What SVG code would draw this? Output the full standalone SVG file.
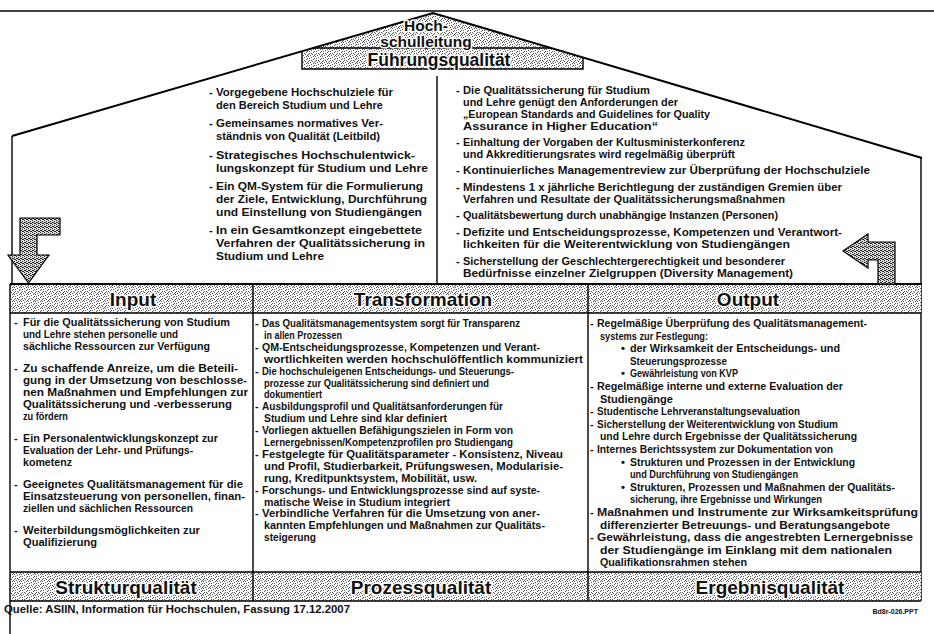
<svg xmlns="http://www.w3.org/2000/svg" width="934" height="634" viewBox="0 0 934 634">
<defs>
<pattern id="st" width="7" height="7" patternUnits="userSpaceOnUse">
<rect width="7" height="7" fill="#fff"/>
<path d="M0 0h1v1H0zM3 1h1v1H3zM5 3h1v1H5zM1 4h1v1H1zM4 5h1v1H4zM6 6h1v1H6zM2 6h1v1H2zM5 0h1v1H5zM1 2h1v1H1zM6 2h1v1H6zM3 4h1v1H3zM0 5h1v1H0z" fill="#555"/>
</pattern>
<pattern id="dk" width="4" height="4" patternUnits="userSpaceOnUse">
<rect width="4" height="4" fill="#ddd"/>
<path d="M0 0h1v1H0zM2 1h1v1H2zM1 2h1v1H1zM3 3h1v1H3zM2 3h1v1H2zM0 2h1v1H0z" fill="#222"/>
</pattern>
<style>
.t{font-family:"Liberation Sans",Arial,sans-serif;font-weight:bold;fill:#111}
.top{font-size:11.2px}
.col{font-size:11px}
.out{font-size:11.2px}
.hd{font-size:19px;text-anchor:middle}
.halo{stroke:#fff;stroke-width:3px;paint-order:stroke;stroke-linejoin:round}
.ln{stroke:#000;fill:none;stroke-width:1.4}
.thk{stroke:#000;fill:none;stroke-width:2}
.band{fill:url(#st)}
</style>
</defs>
<rect width="934" height="634" fill="#fff"/>

<g id="roof">
<polygon class="band" points="433,13 583,57.5 583,69 302,69 302,51.3"/>
<line class="ln" x1="0" y1="11" x2="934" y2="11"/>
<polyline class="thk" points="12,136 433,13 922,158"/>
<path class="ln" d="M313 48H551M302 51.3V69H583V57.5"/>
<text class="t halo" x="426" y="31" font-size="15.5" text-anchor="middle">Hoch-</text>
<text class="t halo" x="426" y="46.5" font-size="15.5" text-anchor="middle">schulleitung</text>
<text class="t halo" x="439" y="66" font-size="17.5" text-anchor="middle">Führungsqualität</text>
</g>

<g id="house-walls">
<line class="ln" x1="12" y1="136" x2="12" y2="285"/>
<line class="ln" x1="921" y1="158" x2="921" y2="601"/>
<line class="ln" x1="437" y1="76" x2="437" y2="284"/>
<line class="thk" x1="10" y1="284" x2="922" y2="284"/>
</g>

<g id="leitung-ziele" class="t top">
<text x="209" y="96">-</text><text x="216" y="96" textLength="177" lengthAdjust="spacingAndGlyphs">Vorgegebene Hochschulziele für</text>
<text x="216" y="108.7" textLength="167" lengthAdjust="spacingAndGlyphs">den Bereich Studium und Lehre</text>
<text x="209" y="127.4">-</text><text x="216" y="127.4" textLength="167" lengthAdjust="spacingAndGlyphs">Gemeinsames normatives Ver-</text>
<text x="216" y="140.1" textLength="164" lengthAdjust="spacingAndGlyphs">ständnis von Qualität (Leitbild)</text>
<text x="209" y="158.8">-</text><text x="216" y="158.8" textLength="199" lengthAdjust="spacingAndGlyphs">Strategisches Hochschulentwick-</text>
<text x="216" y="171.5" textLength="212" lengthAdjust="spacingAndGlyphs">lungskonzept für Studium und Lehre</text>
<text x="209" y="190.2">-</text><text x="216" y="190.2" textLength="207" lengthAdjust="spacingAndGlyphs">Ein QM-System für die Formulierung</text>
<text x="216" y="202.9" textLength="211" lengthAdjust="spacingAndGlyphs">der Ziele, Entwicklung, Durchführung</text>
<text x="216" y="215.6" textLength="206" lengthAdjust="spacingAndGlyphs">und Einstellung von Studiengängen</text>
<text x="209" y="234.3">-</text><text x="216" y="234.3" textLength="206" lengthAdjust="spacingAndGlyphs">In ein Gesamtkonzept eingebettete</text>
<text x="216" y="247" textLength="209" lengthAdjust="spacingAndGlyphs">Verfahren der Qualitätssicherung in</text>
<text x="216" y="259.7" textLength="108" lengthAdjust="spacingAndGlyphs">Studium und Lehre</text>
</g>

<g id="leitung-pruefung" class="t top">
<text x="456" y="94">-</text><text x="463" y="94" textLength="187" lengthAdjust="spacingAndGlyphs">Die Qualitätssicherung für Studium</text>
<text x="463" y="106" textLength="215" lengthAdjust="spacingAndGlyphs">und Lehre genügt den Anforderungen der</text>
<text x="463" y="118" textLength="247" lengthAdjust="spacingAndGlyphs">„European Standards and Guidelines for Quality</text>
<text x="463" y="130" textLength="195" lengthAdjust="spacingAndGlyphs">Assurance in Higher Education“</text>
<text x="456" y="146">-</text><text x="463" y="146" textLength="282" lengthAdjust="spacingAndGlyphs">Einhaltung der Vorgaben der Kultusministerkonferenz</text>
<text x="463" y="158" textLength="272" lengthAdjust="spacingAndGlyphs">und Akkreditierungsrates wird regelmäßig überprüft</text>
<text x="456" y="174">-</text><text x="463" y="174" textLength="407" lengthAdjust="spacingAndGlyphs">Kontinuierliches Managementreview zur Überprüfung der Hochschulziele</text>
<text x="456" y="191">-</text><text x="463" y="191" textLength="379" lengthAdjust="spacingAndGlyphs">Mindestens 1 x jährliche Berichtlegung der zuständigen Gremien über</text>
<text x="463" y="203" textLength="322" lengthAdjust="spacingAndGlyphs">Verfahren und Resultate der Qualitätssicherungsmaßnahmen</text>
<text x="456" y="219">-</text><text x="463" y="219" textLength="315" lengthAdjust="spacingAndGlyphs">Qualitätsbewertung durch unabhängige Instanzen (Personen)</text>
<text x="456" y="236">-</text><text x="463" y="236" textLength="379" lengthAdjust="spacingAndGlyphs">Defizite und Entscheidungsprozesse, Kompetenzen und Verantwort-</text>
<text x="463" y="248" textLength="327" lengthAdjust="spacingAndGlyphs">lichkeiten für die Weiterentwicklung von Studiengängen</text>
<text x="456" y="265">-</text><text x="463" y="265" textLength="322" lengthAdjust="spacingAndGlyphs">Sicherstellung der Geschlechtergerechtigkeit und besonderer</text>
<text x="463" y="277" textLength="330" lengthAdjust="spacingAndGlyphs">Bedürfnisse einzelner Zielgruppen (Diversity Management)</text>
</g>

<g id="connectors">
<polygon points="20,218 60,218 60,235 37,235 37,255 49,255 28.5,283 8,255 20,255" fill="url(#dk)" stroke="#000" stroke-width="1.2"/>
<polygon points="843,251 868,234 868,242 895,242 895,284 878,284 878,260 868,260 868,268" fill="url(#dk)" stroke="#000" stroke-width="1.2"/>
</g>

<g id="bands">
<rect class="band" x="10" y="285" width="911" height="28"/>
<rect class="band" x="10" y="572" width="911" height="29"/>
<path class="ln" d="M10 313H921M10 572H921M10 601H921"/>
<path class="ln" d="M10 284V634M253 285V601M588 285V601"/>
</g>

<g id="input">
<text class="t hd halo" x="133" y="306">Input</text>
<g class="t col">
<text x="14" y="326">-</text><text x="23" y="326" textLength="207" lengthAdjust="spacingAndGlyphs">Für die Qualitätssicherung von Studium</text>
<text x="23" y="338" textLength="155" lengthAdjust="spacingAndGlyphs">und Lehre stehen personelle und</text>
<text x="23" y="350" textLength="187" lengthAdjust="spacingAndGlyphs">sächliche Ressourcen zur Verfügung</text>
<text x="14" y="372">-</text><text x="23" y="372" textLength="215" lengthAdjust="spacingAndGlyphs">Zu schaffende Anreize, um die Beteili-</text>
<text x="23" y="384" textLength="224" lengthAdjust="spacingAndGlyphs">gung in der Umsetzung von beschlosse-</text>
<text x="23" y="396" textLength="225" lengthAdjust="spacingAndGlyphs">nen Maßnahmen und Empfehlungen zur</text>
<text x="23" y="408" textLength="209" lengthAdjust="spacingAndGlyphs">Qualitätssicherung und -verbesserung</text>
<text x="23" y="420" textLength="45" lengthAdjust="spacingAndGlyphs">zu fördern</text>
<text x="14" y="442">-</text><text x="23" y="442" textLength="195" lengthAdjust="spacingAndGlyphs">Ein Personalentwicklungskonzept zur</text>
<text x="23" y="454" textLength="170" lengthAdjust="spacingAndGlyphs">Evaluation der Lehr- und Prüfungs-</text>
<text x="23" y="466" textLength="49" lengthAdjust="spacingAndGlyphs">kometenz</text>
<text x="14" y="488">-</text><text x="23" y="488" textLength="220" lengthAdjust="spacingAndGlyphs">Geeignetes Qualitätsmanagement für die</text>
<text x="23" y="500" textLength="222" lengthAdjust="spacingAndGlyphs">Einsatzsteuerung von personellen, finan-</text>
<text x="23" y="512" textLength="170" lengthAdjust="spacingAndGlyphs">ziellen und sächlichen Ressourcen</text>
<text x="14" y="534">-</text><text x="23" y="534" textLength="177" lengthAdjust="spacingAndGlyphs">Weiterbildungsmöglichkeiten zur</text>
<text x="23" y="546" textLength="74" lengthAdjust="spacingAndGlyphs">Qualifizierung</text>
</g>
<text class="t hd halo" x="126" y="594">Strukturqualität</text>
</g>

<g id="transformation">
<text class="t hd halo" x="423" y="306">Transformation</text>
<g class="t col">
<text x="255" y="327">-</text><text x="262" y="327" textLength="258" lengthAdjust="spacingAndGlyphs">Das Qualitätsmanagementsystem sorgt für Transparenz</text>
<text x="264" y="338.9" textLength="78" lengthAdjust="spacingAndGlyphs">in allen Prozessen</text>
<text x="255" y="350.8">-</text><text x="262" y="350.8" textLength="278" lengthAdjust="spacingAndGlyphs">QM-Entscheidungsprozesse, Kompetenzen und Verant-</text>
<text x="264" y="362.7" textLength="319" lengthAdjust="spacingAndGlyphs">wortlichkeiten werden hochschulöffentlich kommuniziert</text>
<text x="255" y="374.6">-</text><text x="262" y="374.6" textLength="252" lengthAdjust="spacingAndGlyphs">Die hochschuleigenen Entscheidungs- und Steuerungs-</text>
<text x="264" y="386.5" textLength="225" lengthAdjust="spacingAndGlyphs">prozesse zur Qualitätssicherung sind definiert und</text>
<text x="264" y="398.4" textLength="58" lengthAdjust="spacingAndGlyphs">dokumentiert</text>
<text x="255" y="410.3">-</text><text x="262" y="410.3" textLength="241" lengthAdjust="spacingAndGlyphs">Ausbildungsprofil und Qualitätsanforderungen für</text>
<text x="264" y="422.2" textLength="183" lengthAdjust="spacingAndGlyphs">Studium und Lehre sind klar definiert</text>
<text x="255" y="434.1">-</text><text x="262" y="434.1" textLength="251" lengthAdjust="spacingAndGlyphs">Vorliegen aktuellen Befähigungszielen in Form von</text>
<text x="264" y="446" textLength="249" lengthAdjust="spacingAndGlyphs">Lernergebnissen/Kompetenzprofilen pro Studiengang</text>
<text x="255" y="457.9">-</text><text x="262" y="457.9" textLength="301" lengthAdjust="spacingAndGlyphs">Festgelegte für Qualitätsparameter - Konsistenz, Niveau</text>
<text x="264" y="469.8" textLength="299" lengthAdjust="spacingAndGlyphs">und Profil, Studierbarkeit, Prüfungswesen, Modularisie-</text>
<text x="264" y="481.7" textLength="213" lengthAdjust="spacingAndGlyphs">rung, Kreditpunktsystem, Mobilität, usw.</text>
<text x="255" y="493.6">-</text><text x="262" y="493.6" textLength="278" lengthAdjust="spacingAndGlyphs">Forschungs- und Entwicklungsprozesse sind auf syste-</text>
<text x="264" y="505.5" textLength="186" lengthAdjust="spacingAndGlyphs">matische Weise in Studium integriert</text>
<text x="255" y="517.4">-</text><text x="262" y="517.4" textLength="278" lengthAdjust="spacingAndGlyphs">Verbindliche Verfahren für die Umsetzung von aner-</text>
<text x="264" y="529.3" textLength="281" lengthAdjust="spacingAndGlyphs">kannten Empfehlungen und Maßnahmen zur Qualitäts-</text>
<text x="264" y="541.2" textLength="52" lengthAdjust="spacingAndGlyphs">steigerung</text>
</g>
<text class="t hd halo" x="421" y="594">Prozessqualität</text>
</g>

<g id="output">
<text class="t hd halo" x="748" y="306">Output</text>
<g class="t out">
<text x="590" y="327">-</text><text x="597" y="327" textLength="270" lengthAdjust="spacingAndGlyphs">Regelmäßige Überprüfung des Qualitätsmanagement-</text>
<text x="600" y="339.6" textLength="108" lengthAdjust="spacingAndGlyphs">systems zur Festlegung:</text>
<text x="621" y="352.2">•</text><text x="630" y="352.2" textLength="210" lengthAdjust="spacingAndGlyphs">der Wirksamkeit der Entscheidungs- und</text>
<text x="630" y="364.8" textLength="97" lengthAdjust="spacingAndGlyphs">Steuerungsprozesse</text>
<text x="621" y="377.4">•</text><text x="630" y="377.4" textLength="108" lengthAdjust="spacingAndGlyphs">Gewährleistung von KVP</text>
<text x="590" y="390">-</text><text x="597" y="390" textLength="246" lengthAdjust="spacingAndGlyphs">Regelmäßige interne und externe Evaluation der</text>
<text x="600" y="402.6" textLength="73" lengthAdjust="spacingAndGlyphs">Studiengänge</text>
<text x="590" y="415.2">-</text><text x="597" y="415.2" textLength="203" lengthAdjust="spacingAndGlyphs">Studentische Lehrveranstaltungsevaluation</text>
<text x="590" y="427.8">-</text><text x="597" y="427.8" textLength="241" lengthAdjust="spacingAndGlyphs">Sicherstellung der Weiterentwicklung von Studium</text>
<text x="600" y="440.4" textLength="257" lengthAdjust="spacingAndGlyphs">und Lehre durch Ergebnisse der Qualitätssicherung</text>
<text x="590" y="453">-</text><text x="597" y="453" textLength="236" lengthAdjust="spacingAndGlyphs">Internes Berichtssystem zur Dokumentation von</text>
<text x="621" y="465.6">•</text><text x="630" y="465.6" textLength="225" lengthAdjust="spacingAndGlyphs">Strukturen und Prozessen in der Entwicklung</text>
<text x="630" y="478.2" textLength="168" lengthAdjust="spacingAndGlyphs">und Durchführung von Studiengängen</text>
<text x="621" y="490.8">•</text><text x="630" y="490.8" textLength="265" lengthAdjust="spacingAndGlyphs">Strukturen, Prozessen und Maßnahmen der Qualitäts-</text>
<text x="630" y="503.4" textLength="192" lengthAdjust="spacingAndGlyphs">sicherung, ihre Ergebnisse und Wirkungen</text>
<text x="590" y="516">-</text><text x="597" y="516" textLength="321" lengthAdjust="spacingAndGlyphs">Maßnahmen und Instrumente zur Wirksamkeitsprüfung</text>
<text x="600" y="528.6" textLength="290" lengthAdjust="spacingAndGlyphs">differenzierter Betreuungs- und Beratungsangebote</text>
<text x="590" y="541.2">-</text><text x="597" y="541.2" textLength="316" lengthAdjust="spacingAndGlyphs">Gewährleistung, dass die angestrebten Lernergebnisse</text>
<text x="600" y="553.8" textLength="292" lengthAdjust="spacingAndGlyphs">der Studiengänge im Einklang mit dem nationalen</text>
<text x="600" y="566.4" textLength="147" lengthAdjust="spacingAndGlyphs">Qualifikationsrahmen stehen</text>
</g>
<text class="t hd halo" x="770" y="594">Ergebnisqualität</text>
</g>

<g id="source">
<text class="t" x="4" y="613" font-size="10.5" textLength="346" lengthAdjust="spacingAndGlyphs">Quelle: ASIIN, Information für Hochschulen, Fassung 17.12.2007</text>
<text class="t" x="918" y="614" font-size="7" text-anchor="end">Bd8r-026.PPT</text>
</g>
</svg>
